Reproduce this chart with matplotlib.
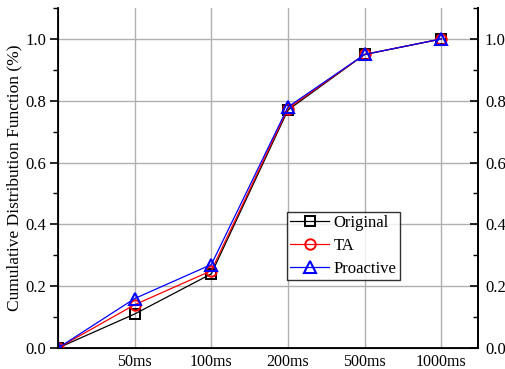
import matplotlib
matplotlib.use('Agg')
import matplotlib.pyplot as plt
from matplotlib.ticker import MultipleLocator

plt.rcParams['font.family'] = ['Liberation Serif', 'DejaVu Serif']

labels = ['50ms', '100ms', '200ms', '500ms', '1000ms']
xpos = [0, 1, 2, 3, 4, 5]
original = [0.0, 0.11, 0.24, 0.77, 0.95, 1.0]
ta = [0.0, 0.14, 0.25, 0.775, 0.95, 1.0]
proactive = [0.0, 0.16, 0.27, 0.78, 0.95, 1.0]
yticks = [0.0, 0.2, 0.4, 0.6, 0.8, 1.0]

fig = plt.figure(figsize=(5.05, 3.69), dpi=100)
ax = fig.add_axes([0.115, 0.057, 0.8315, 0.921])

ax.plot(xpos, original, color='black', lw=0.9, marker='s', ms=7, mfc='none',
        mec='black', mew=1.4, label='Original', zorder=3)
ax.plot(xpos, ta, color='red', lw=0.9, marker='o', ms=7.5, mfc='none',
        mec='red', mew=1.4, label='TA', zorder=3)
ax.plot(xpos, proactive, color='blue', lw=0.9, marker='^', ms=8, mfc='none',
        mec='blue', mew=1.5, label='Proactive', zorder=3)

ax.set_xlim(0, 5.48)
ax.set_ylim(0, 1.1)
ax.set_xticks(xpos[1:])
ax.set_xticklabels(labels)
ax.set_yticks(yticks)
ax.set_yticklabels(['%.1f' % v for v in yticks])
ax.yaxis.set_minor_locator(MultipleLocator(0.1))

ax.grid(True, color='#b0b0b0', lw=1.0)
ax.set_axisbelow(True)

ax.spines['top'].set_visible(False)
for s in ['left', 'right', 'bottom']:
    ax.spines[s].set_linewidth(1.3)

ax.tick_params(axis='x', length=0, labelsize=11.5, pad=4)
ax.tick_params(axis='y', which='major', direction='out', length=6, width=1.2,
               labelsize=12, pad=2.5)
ax.tick_params(axis='y', which='minor', direction='out', length=3.5, width=1.0)

# right axis with inward ticks
ax2 = ax.twinx()
ax2.set_ylim(0, 1.1)
ax2.set_yticks(yticks)
ax2.set_yticklabels(['%.1f' % v for v in yticks])
ax2.yaxis.set_minor_locator(MultipleLocator(0.1))
ax2.tick_params(axis='y', which='major', direction='in', length=6, width=1.2,
                labelsize=12, pad=5)
ax2.tick_params(axis='y', which='minor', direction='in', length=3.5, width=1.0)
ax2.spines['top'].set_visible(False)
ax2.spines['right'].set_linewidth(1.3)

ax.set_ylabel('Cumulative Distribution Function (%)', fontsize=12.5, labelpad=2)

leg = ax.legend(loc='lower left', bbox_to_anchor=(0.545, 0.2), fontsize=12,
                frameon=True, fancybox=False, edgecolor='black',
                borderpad=0.2, labelspacing=0.4, handlelength=2.35,
                handletextpad=0.25, borderaxespad=0)
leg.get_frame().set_linewidth(1.0)
leg.set_zorder(5)

fig.savefig('out.png', dpi=100)
